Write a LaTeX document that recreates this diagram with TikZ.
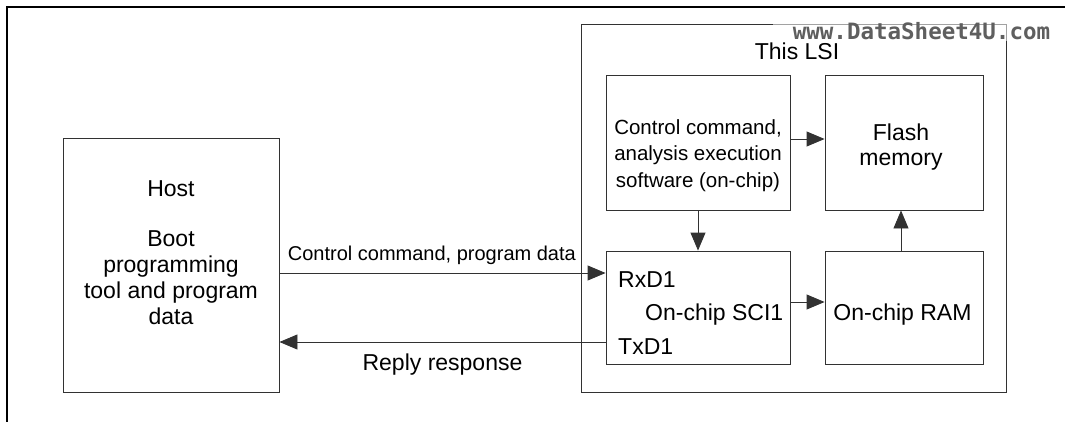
\documentclass[tikz,border=0pt]{standalone}
\usepackage{fontspec}
\setmainfont{Liberation Sans}
\newfontfamily\markfont{DejaVu Sans Mono}
\usetikzlibrary{arrows.meta, positioning}
\definecolor{linegray}{RGB}{50,50,50}
\definecolor{markgray}{RGB}{95,95,95}

\begin{document}
\begin{tikzpicture}[x=1pt, y=-1pt,
    box/.style={draw=linegray, line width=0.9pt, inner sep=0pt},
    txt/.style={align=center, inner sep=0pt, font=\fontsize{23}{25}\selectfont},
    small/.style={align=center, inner sep=0pt, font=\fontsize{20.5}{26.5}\selectfont},
    arr/.style={-{Triangle[length=18pt,width=15pt]}, draw=linegray, line width=0.9pt},
    frame/.style={draw=black, line width=2.6pt}
]
  \useasboundingbox (0,0) rectangle (1065,422);
  % Page frame
  \draw[frame] (1070,7) -- (7,7) -- (7,430);

  % Host
  \node[box, minimum width=216pt, minimum height=254pt] (host) at (171,265) {};
  \node[txt, font=\fontsize{23}{26}\selectfont] (hosttxt) at (171,253)
    {Host\\[24pt]Boot\\programming\\tool and program\\data};

  % This LSI
  \node[box, minimum width=425pt, minimum height=368pt] (lsi) at (793.5,208) {};

  % Watermark
  \node[anchor=base, fill=white, fill opacity=0.55, text opacity=1, text=markgray,
        inner xsep=20pt, inner ysep=1pt, font=\markfont\bfseries\fontsize{22.5}{26}\selectfont]
    (mark) at (921.5,40) {www.DataSheet4U.com};

  \node[txt, anchor=base] (lsitxt) at (797,60) {This LSI};

  % Blocks inside the LSI
  \node[box, minimum width=184pt, minimum height=135pt] (soft) at (698,142.5) {};
  \node[small] (softtxt) at (698,155.3)
    {Control command,\\analysis execution\\software (on-chip)};
  \node[box, minimum width=158pt, minimum height=135pt] (flash) at (904,142.5) {};
  \node[txt] (flashtxt) at (901,146.7) {Flash\\memory};
  \node[box, minimum width=184pt, minimum height=113pt] (sci) at (698,307.5) {};
  \node[txt, anchor=base west] (rxd) at (618,287) {RxD1};
  \node[txt, anchor=base west] (scitxt) at (645,320) {On-chip SCI1};
  \node[txt, anchor=base west] (txd) at (618,354) {TxD1};
  \node[box, minimum width=158pt, minimum height=113pt] (ram) at (904,307.5) {};
  \node[txt, anchor=base] (ramtxt) at (902.5,320) {On-chip RAM};

  % Host <-> SCI1
  \coordinate (rx) at ([yshift=34.5pt]sci.west);
  \coordinate (tx) at ([yshift=-34.5pt]sci.west);
  \draw[arr] (host.east |- rx) -- (rx)
    node[pos=0, anchor=base west, xshift=8pt, yshift=13pt, inner sep=0pt,
         font=\fontsize{20}{24}\selectfont] (cmdlbl) {Control command, program data};
  \draw[arr] (tx) -- (host.east |- tx)
    node[midway, txt, anchor=base, yshift=-28pt] (replylbl) {Reply response};

  % Internal paths
  \draw[arr] ([yshift=3.5pt]soft.east) -- ([yshift=3.5pt]flash.west);
  \draw[arr] (soft) -- (sci);
  \draw[arr] ([yshift=5.5pt]sci.east) -- ([yshift=5.5pt]ram.west);
  \draw[arr] ([xshift=-3pt]ram.north) -- ([xshift=-3pt]flash.south);
\end{tikzpicture}
\end{document}
